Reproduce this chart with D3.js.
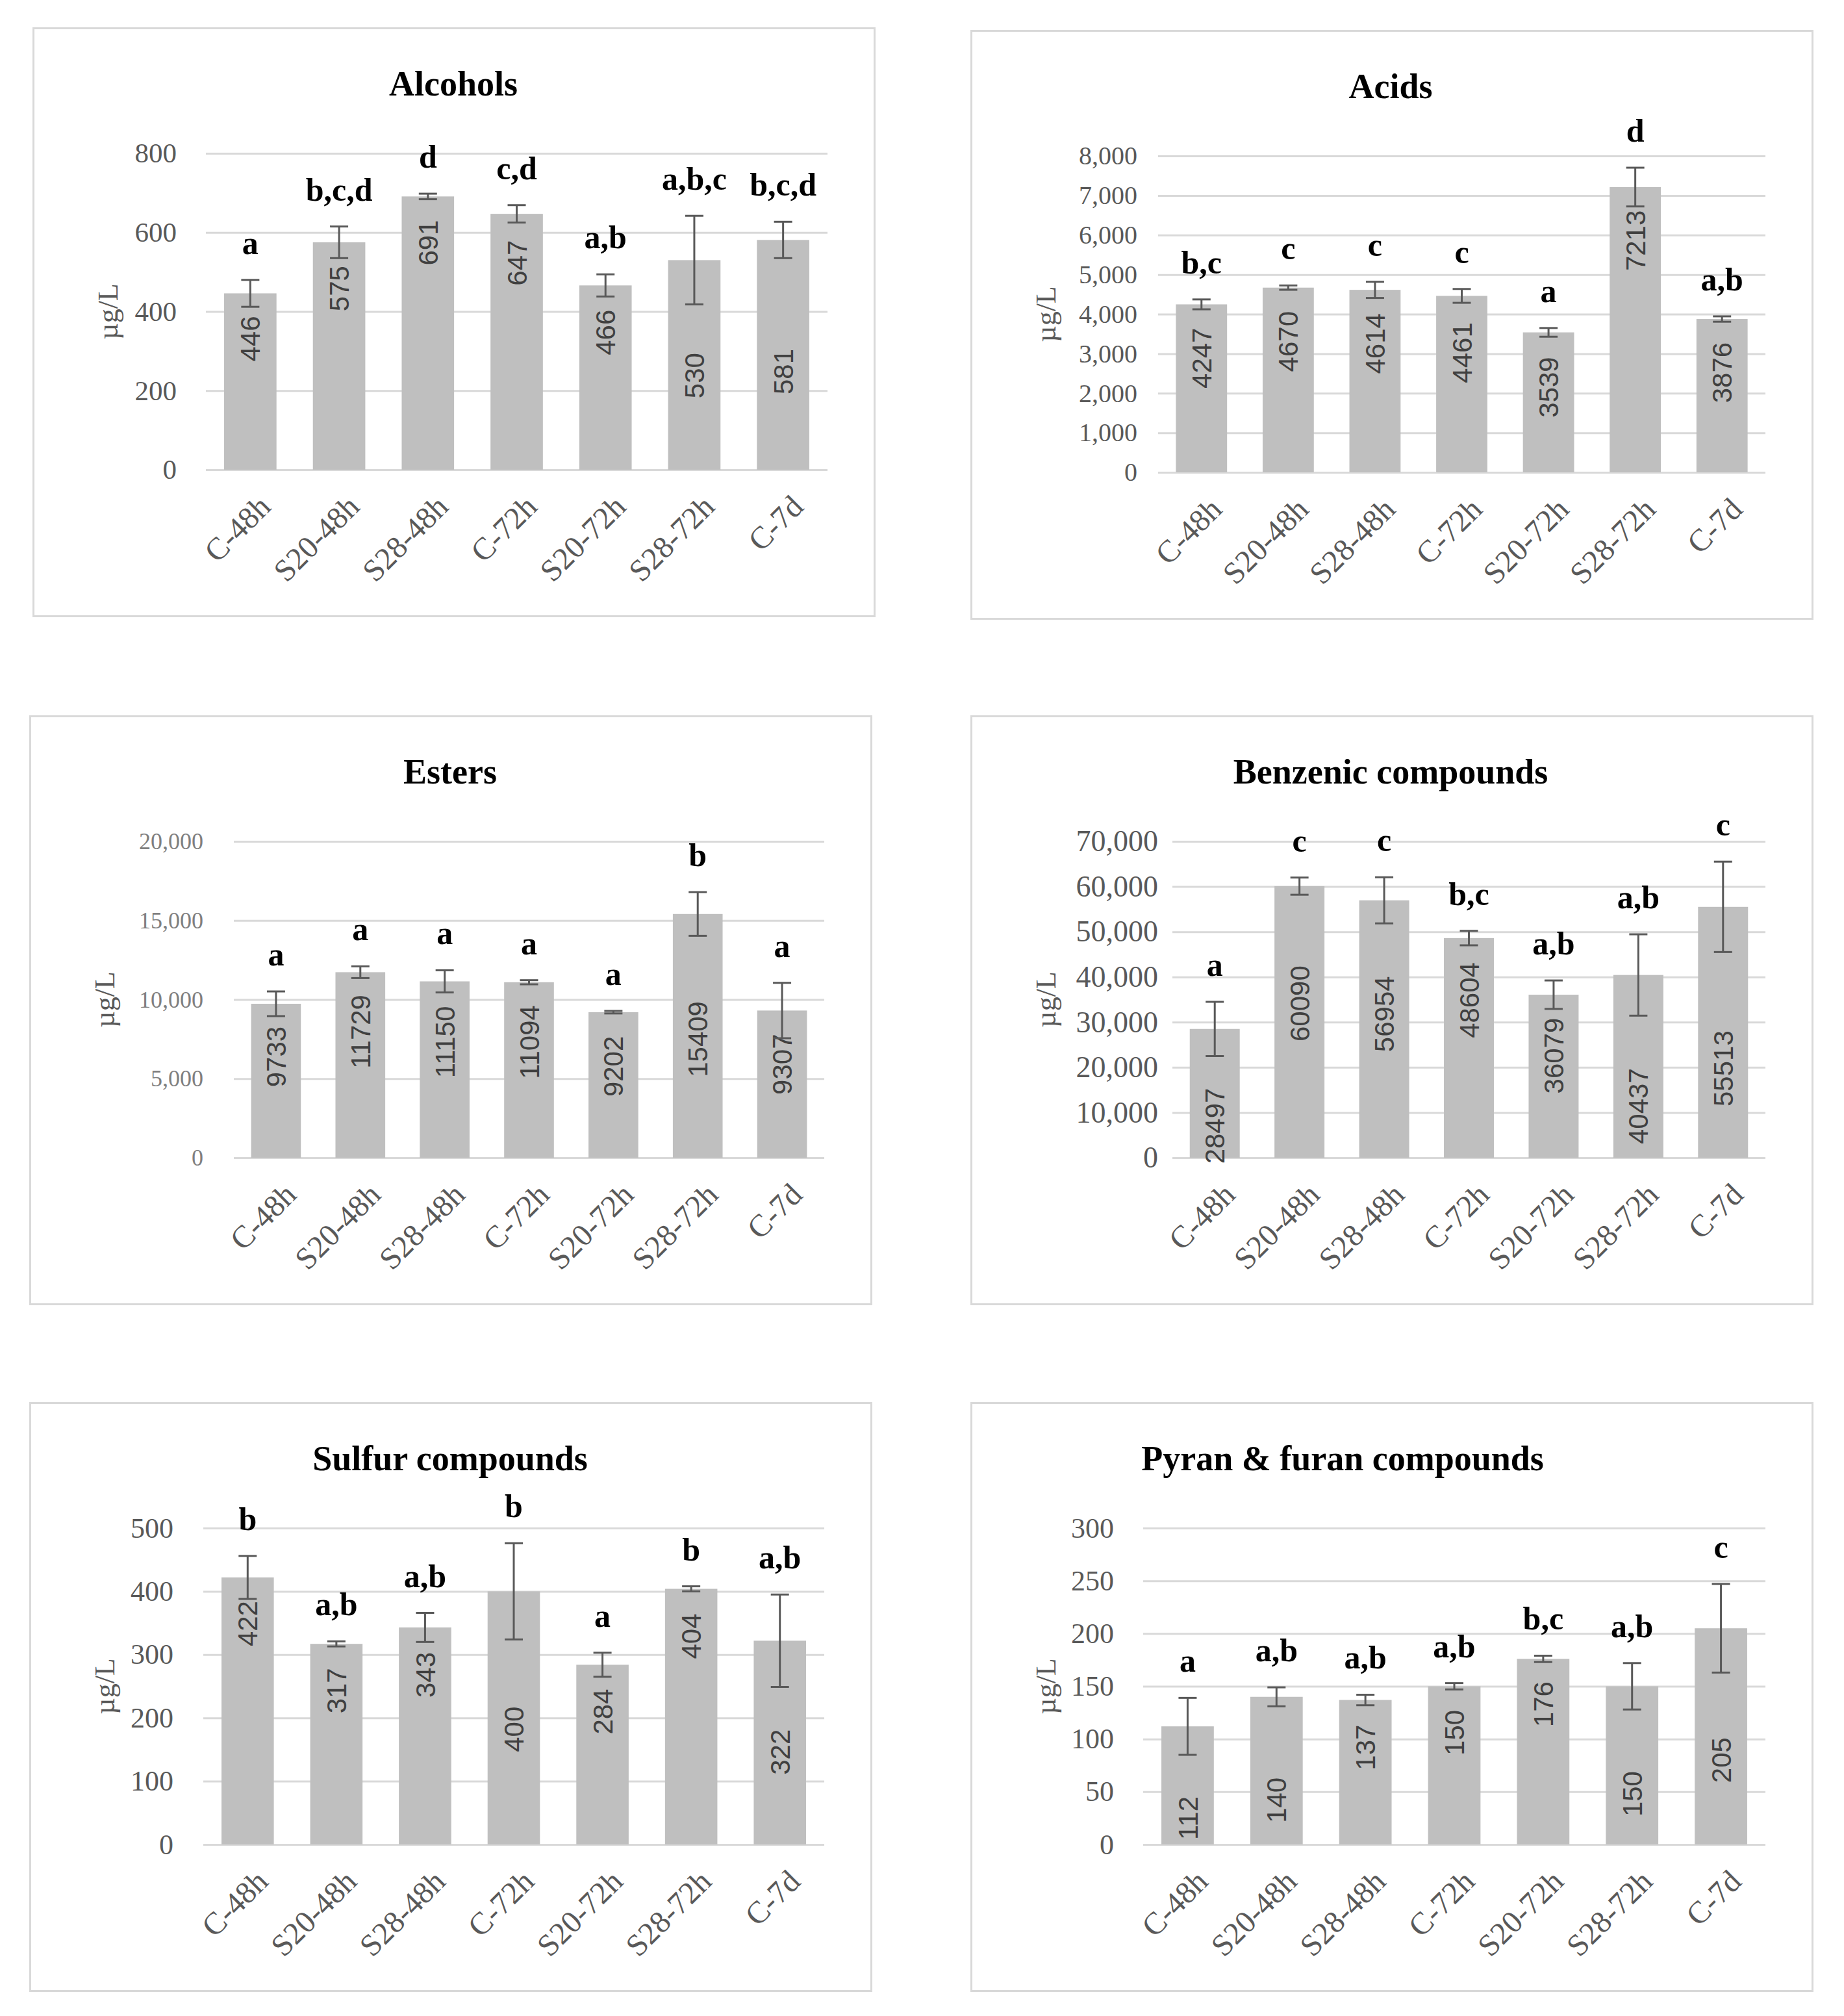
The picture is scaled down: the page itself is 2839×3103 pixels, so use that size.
<!DOCTYPE html>
<html>
<head>
<meta charset="utf-8">
<script src="https://cdn.jsdelivr.net/npm/d3@7"></script>
<style>
  body { margin: 0; background: #fff; }
</style>
</head>
<body>
<div id="chart"></div>
<script>
// Chart data

var categories = ["C-48h", "S20-48h", "S28-48h", "C-72h", "S20-72h", "S28-72h", "C-7d"];

var alcoholsValues = [446, 575, 691, 647, 466, 530, 581];
var alcoholsErrors = [34, 40, 7, 22, 28, 112, 46];
var alcoholsLetters = ["a", "b,c,d", "d", "c,d", "a,b", "a,b,c", "b,c,d"];
var alcoholsTicks = [0, 200, 400, 600, 800];

var acidsValues = [4247, 4670, 4614, 4461, 3539, 7213, 3876];
var acidsErrors = [125, 55, 205, 175, 110, 490, 68];
var acidsLetters = ["b,c", "c", "c", "c", "a", "d", "a,b"];
var acidsTicks = [0, 1000, 2000, 3000, 4000, 5000, 6000, 7000, 8000];

var estersValues = [9733, 11729, 11150, 11094, 9202, 15409, 9307];
var estersErrors = [780, 370, 700, 130, 80, 1380, 1750];
var estersLetters = ["a", "a", "a", "a", "a", "b", "a"];
var estersTicks = [0, 5000, 10000, 15000, 20000];

var benzenicValues = [28497, 60090, 56954, 48604, 36079, 40437, 55513];
var benzenicErrors = [6000, 1900, 5100, 1600, 3150, 9000, 10000];
var benzenicLetters = ["a", "c", "c", "b,c", "a,b", "a,b", "c"];
var benzenicTicks = [0, 10000, 20000, 30000, 40000, 50000, 60000, 70000];

var sulfurValues = [422, 317, 343, 400, 284, 404, 322];
var sulfurErrors = [34, 4, 23, 76, 19, 4, 73];
var sulfurLetters = ["b", "a,b", "a,b", "b", "a", "b", "a,b"];
var sulfurTicks = [0, 100, 200, 300, 400, 500];

var pyranValues = [112, 140, 137, 150, 176, 150, 205];
var pyranErrors = [27, 9, 5, 3, 3, 22, 42];
var pyranLetters = ["a", "a,b", "a,b", "a,b", "b,c", "a,b", "c"];
var pyranTicks = [0, 50, 100, 150, 200, 250, 300];

// where each value label sits (in axis units), as placed in the figure
var alcoholsLabelAt = [331, 458, 574, 523, 347, 238, 248];
var acidsLabelAt = [2887, 3307, 3255, 3024, 2152, 5858, 2520];
var estersLabelAt = [6384, 7973, 7311, 7311, 5775, 7497, 5907];
var benzenicLabelAt = [7046, 34119, 31800, 34860, 22554, 11404, 19748];
var sulfurLabelAt = [349, 243, 268, 182, 210, 329, 146];
var pyranLabelAt = [25, 42, 92, 106, 133, 48, 80];

// Panel set up
var boxW = 1295, boxH = 905;
var plotTop = 194, plotBottom = 681, plotRight = 1224;

var serif = "'Liberation Serif', 'DejaVu Serif', serif";
var sans = "'Liberation Sans', Arial, sans-serif";

var panels = [
  {title: "Alcohols", values: alcoholsValues, errors: alcoholsErrors, letters: alcoholsLetters,
   ticks: alcoholsTicks, labelAt: alcoholsLabelAt,
   x: 50, y: 42, plotLeft: 267, tickGap: 45, tickSize: 43, tickColor: "#595959", titleX: 648},
  {title: "Acids", values: acidsValues, errors: acidsErrors, letters: acidsLetters,
   ticks: acidsTicks, labelAt: acidsLabelAt,
   x: 1494, y: 46, plotLeft: 289, tickGap: 32, tickSize: 40, tickColor: "#595959", titleX: 647},
  {title: "Esters", values: estersValues, errors: estersErrors, letters: estersLetters,
   ticks: estersTicks, labelAt: estersLabelAt,
   x: 45, y: 1101, plotLeft: 315, tickGap: 47, tickSize: 36, tickColor: "#7f7f7f", titleX: 648},
  {title: "Benzenic compounds", values: benzenicValues, errors: benzenicErrors, letters: benzenicLetters,
   ticks: benzenicTicks, labelAt: benzenicLabelAt,
   x: 1494, y: 1101, plotLeft: 311, tickGap: 22, tickSize: 46, tickColor: "#595959", titleX: 647},
  {title: "Sulfur compounds", values: sulfurValues, errors: sulfurErrors, letters: sulfurLetters,
   ticks: sulfurTicks, labelAt: sulfurLabelAt,
   x: 45, y: 2158, plotLeft: 268, tickGap: 46, tickSize: 44, tickColor: "#595959", titleX: 648},
  {title: "Pyran & furan compounds", values: pyranValues, errors: pyranErrors, letters: pyranLetters,
   ticks: pyranTicks, labelAt: pyranLabelAt,
   x: 1494, y: 2158, plotLeft: 266, tickGap: 45, tickSize: 44, tickColor: "#595959", titleX: 573}
];

var svg = d3.select("#chart")
  .append("svg")
  .attr("width", 2839)
  .attr("height", 3103)
  .style("background", "#fff");

panels.forEach(function(p) {
  var g = svg.append("g")
    .attr("transform", `translate(${p.x}, ${p.y})`);

  g.append("rect")
    .attr("x", 1.5).attr("y", 1.5)
    .attr("width", boxW).attr("height", boxH)
    .attr("fill", "#fff")
    .attr("stroke", "#d9d9d9")
    .attr("stroke-width", 3);

  var xScale = d3.scaleBand()
    .domain(categories)
    .range([p.plotLeft, plotRight])
    .paddingInner(0.41)
    .paddingOuter(0.205);

  var yScale = d3.scaleLinear()
    .domain([0, d3.max(p.ticks)])
    .range([plotBottom, plotTop]);

  // y axis with gridlines
  var leftAxis = d3.axisLeft(yScale)
    .tickValues(p.ticks)
    .tickFormat(d3.format(","))
    .tickSizeInner(-(plotRight - p.plotLeft))
    .tickSizeOuter(0)
    .tickPadding(p.tickGap);

  var yAxis = g.append("g")
    .attr("transform", `translate(${p.plotLeft}, 0)`)
    .call(leftAxis);
  yAxis.select(".domain").remove();
  yAxis.selectAll("line")
    .attr("stroke", "#d9d9d9")
    .attr("stroke-width", 3);
  yAxis.selectAll("text")
    .style("font-family", serif)
    .style("font-size", p.tickSize + "px")
    .attr("fill", p.tickColor);

  // x axis, rotated labels
  var bottomAxis = d3.axisBottom(xScale).tickSize(0);
  var xAxis = g.append("g")
    .attr("transform", `translate(0, ${plotBottom})`)
    .call(bottomAxis);
  xAxis.select(".domain").remove();
  xAxis.selectAll("text")
    .attr("x", 0).attr("y", 0).attr("dy", "0.35em")
    .attr("transform", "translate(22, 48) rotate(-45)")
    .attr("text-anchor", "end")
    .style("font-family", serif)
    .style("font-size", "48px")
    .attr("fill", "#595959");

  var idx = d3.range(categories.length);
  var cx = function(i) { return xScale(categories[i]) + xScale.bandwidth() / 2; };

  // bars
  g.selectAll(".bar")
    .data(idx)
    .enter()
    .append("rect")
    .attr("class", "bar")
    .attr("x", i => xScale(categories[i]))
    .attr("y", i => yScale(p.values[i]))
    .attr("width", xScale.bandwidth())
    .attr("height", i => plotBottom - yScale(p.values[i]))
    .attr("fill", "#bfbfbf");

  // value labels
  g.selectAll(".vlabel")
    .data(idx)
    .enter()
    .append("text")
    .attr("class", "vlabel")
    .attr("transform", i => `translate(${cx(i)}, ${yScale(p.labelAt[i])}) rotate(-90)`)
    .attr("text-anchor", "middle")
    .attr("dy", "0.36em")
    .style("font-family", sans)
    .style("font-size", "42px")
    .attr("fill", "#404040")
    .text(i => p.values[i]);

  // error bars
  var err = g.selectAll(".err")
    .data(idx)
    .enter()
    .append("g")
    .attr("class", "err")
    .attr("stroke", "#595959")
    .attr("stroke-width", 3);
  err.append("line")
    .attr("x1", cx).attr("x2", cx)
    .attr("y1", i => yScale(p.values[i] + p.errors[i]))
    .attr("y2", i => yScale(p.values[i] - p.errors[i]));
  err.append("line")
    .attr("x1", i => cx(i) - 14).attr("x2", i => cx(i) + 14)
    .attr("y1", i => yScale(p.values[i] + p.errors[i]))
    .attr("y2", i => yScale(p.values[i] + p.errors[i]));
  err.append("line")
    .attr("x1", i => cx(i) - 14).attr("x2", i => cx(i) + 14)
    .attr("y1", i => yScale(p.values[i] - p.errors[i]))
    .attr("y2", i => yScale(p.values[i] - p.errors[i]));

  // significance letters
  g.selectAll(".letter")
    .data(idx)
    .enter()
    .append("text")
    .attr("class", "letter")
    .attr("x", cx)
    .attr("y", i => yScale(p.values[i] + p.errors[i]) - 40)
    .attr("text-anchor", "middle")
    .style("font-family", serif)
    .style("font-weight", "bold")
    .style("font-size", "50px")
    .attr("fill", "#000")
    .text(i => p.letters[i]);

  // title
  g.append("text")
    .attr("x", p.titleX)
    .attr("y", 86)
    .attr("dy", "0.35em")
    .attr("text-anchor", "middle")
    .style("font-family", serif)
    .style("font-weight", "bold")
    .style("font-size", "54px")
    .attr("fill", "#000")
    .text(p.title);

  // y axis label
  g.append("text")
    .attr("transform", `translate(116, ${(plotTop + plotBottom) / 2}) rotate(-90)`)
    .attr("text-anchor", "middle")
    .attr("dy", "0.35em")
    .style("font-family", serif)
    .style("font-size", "44px")
    .attr("fill", "#595959")
    .text("µg/L");
});
</script>
</body>
</html>
